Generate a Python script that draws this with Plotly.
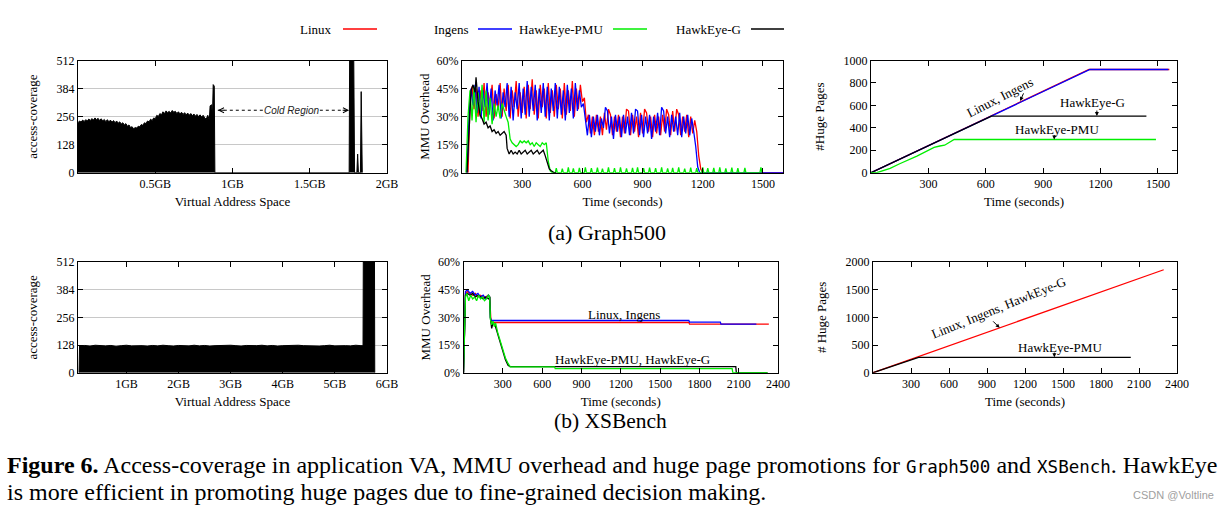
import plotly.graph_objects as go

# ---------------- DATA ----------------
# (a) Graph500 - access coverage over virtual address space (GB)
g_cov_x = [0.00, 0.01, 0.02, 0.03, 0.04, 0.05, 0.06, 0.07, 0.08, 0.09,
           0.10, 0.11, 0.12, 0.13, 0.14, 0.15, 0.16, 0.17, 0.18, 0.19,
           0.20, 0.21, 0.22, 0.23, 0.24, 0.25, 0.26, 0.27, 0.28, 0.29,
           0.30, 0.31, 0.32, 0.33, 0.34, 0.35, 0.36, 0.37, 0.38, 0.39,
           0.40, 0.41, 0.42, 0.43, 0.44, 0.45, 0.46, 0.47, 0.48, 0.49,
           0.50, 0.51, 0.52, 0.53, 0.54, 0.55, 0.56, 0.57, 0.58, 0.59,
           0.60, 0.61, 0.62, 0.63, 0.64, 0.65, 0.66, 0.67, 0.68, 0.69,
           0.70, 0.71, 0.72, 0.73, 0.74, 0.75, 0.76, 0.77, 0.78, 0.79,
           0.80, 0.81, 0.82, 0.83, 0.84, 0.85,
           0.855, 0.865, 0.87, 0.875, 0.882, 0.886,
           1.755, 1.758, 1.785, 1.79, 1.805, 1.81, 1.815, 1.828, 1.833, 1.84]
g_cov_y = [228, 236, 231, 240, 234, 242, 236, 245, 238, 247,
           240, 250, 242, 248, 238, 246, 236, 243, 233, 242,
           232, 240, 230, 238, 228, 236, 226, 232, 222, 228,
           218, 224, 212, 218, 206, 210, 200, 206, 204, 212,
           210, 220, 216, 228, 224, 236, 232, 244, 238, 250,
           246, 262, 256, 270, 264, 278, 270, 282, 274, 280,
           272, 284, 276, 280, 270, 278, 268, 276, 266, 274,
           264, 272, 262, 270, 260, 268, 258, 266, 256, 264,
           254, 262, 250, 244, 262, 240,
           305, 310, 250, 402, 395, 0,
           0, 512, 512, 0, 0, 85, 0, 0, 370, 0]

# (a) Graph500 - MMU overhead (%)
g_linux_t = list(range(30, 1201, 10)) + [1600]
g_linux_v = [0, 38, 46, 34, 45, 30, 44, 33, 48, 30,
             43, 36, 47, 29, 42, 34, 48, 30, 45, 33,
             47, 29, 44, 35, 49, 30, 43, 32, 46, 29,
             47, 34, 50, 31, 44, 29, 47, 35, 45, 29,
             48, 32, 44, 30, 47, 34, 45, 29, 48, 31,
             44, 33, 49, 30, 45, 34, 47, 38, 40, 27,
             31, 21, 30, 20, 31, 22, 30, 20, 32, 23,
             34, 31, 20, 30, 22, 31, 19, 30, 21, 34,
             33, 20, 31, 22, 30, 19, 32, 21, 34, 32,
             22, 30, 19, 31, 21, 30, 20, 31, 22, 34,
             31, 20, 33, 22, 34, 31, 20, 30, 22, 31,
             19, 30, 21, 28, 22, 9, 2, 0, 0]
g_ingens_t = list(range(25, 1196, 10)) + [1600]
g_ingens_v = [0, 30, 45, 36, 47, 32, 46, 29, 44, 35,
              48, 31, 45, 28, 44, 36, 47, 29, 43, 35,
              48, 30, 46, 28, 43, 34, 48, 29, 45, 31,
              49, 30, 46, 33, 47, 28, 45, 32, 48, 30,
              46, 28, 45, 33, 48, 29, 46, 31, 44, 28,
              47, 32, 45, 29, 48, 33, 44, 35, 37, 29,
              20, 31, 19, 30, 22, 31, 20, 29, 24, 35,
              33, 21, 30, 18, 31, 22, 30, 19, 31, 21,
              30, 20, 32, 21, 34, 33, 20, 31, 19, 30,
              21, 31, 18, 30, 22, 32, 20, 35, 33, 21,
              30, 19, 31, 22, 30, 20, 32, 19, 30, 21,
              31, 20, 29, 22, 14, 3, 0, 0, 0]
g_pmu_t = list(range(20, 451, 10))
g_pmu_v = [0, 30, 44, 28, 46, 27, 43, 30, 47, 27,
           44, 28, 40, 26, 37, 30, 36, 29, 37, 33,
           30, 27, 18, 16, 15, 14, 15, 17, 16, 17,
           16, 17, 15, 16, 14, 16, 15, 14, 16, 15,
           16, 6, 1, 0]
g_pmu_spike_t = [470, 500, 530, 555, 585, 615, 645, 675, 700, 730, 760, 790,
                 820, 850, 875, 905, 935, 965, 995, 1025, 1050, 1080, 1110, 1140,
                 1170, 1200, 1225, 1255, 1285, 1315, 1345, 1375, 1410, 1490]
g_pmu_spike_v = [2.5, 2.2, 2.8, 2.3, 2.6, 2.9, 2.4, 2.7, 2.2, 2.8, 2.5, 2.9,
                 2.3, 2.6, 2.8, 2.4, 2.7, 2.5, 2.9, 2.3, 2.6, 2.8, 2.2, 2.7,
                 2.5, 2.9, 2.4, 2.6, 2.8, 2.3, 2.7, 2.5, 2.6, 2.9]
g_hg_t = [25, 35, 45, 55, 65, 70, 80, 90, 100, 110, 120, 130, 140, 150, 160,
          170, 180, 190, 200, 210, 220, 225, 235, 245, 255, 265, 275, 285, 295,
          305, 315, 325, 335, 345, 355, 365, 375, 385, 395, 405, 415, 425, 435,
          445, 460, 470]
g_hg_v = [0, 25, 44, 47, 43, 51, 38, 31, 29, 26, 27, 24, 25, 22, 23,
          21, 22, 20, 21, 22, 20, 13, 10, 12, 10, 11, 10, 12, 10,
          11, 12, 10, 11, 12, 10, 11, 12, 10, 11, 12, 9, 6, 2,
          1, 0, 0]

# (a) Graph500 - number of huge pages
g_hp_linux_t = [0, 1140, 1560]
g_hp_linux_v = [0, 920, 920]
g_hp_ingens_t = [0, 1145, 1555]
g_hp_ingens_v = [0, 920, 920]
g_hp_g_t = [0, 630, 1440]
g_hp_g_v = [0, 505, 505]
g_hp_pmu_t = [0, 30, 100, 150, 240, 330, 360, 385, 435, 1490]
g_hp_pmu_v = [0, 0, 38, 80, 148, 225, 238, 245, 296, 296]

# (b) XSBench - access coverage
x_cov_x = [0.09, 0.1, 0.2, 0.3, 0.4, 0.5, 0.6, 0.7, 0.8, 0.9, 1.0,
           1.1, 1.2, 1.3, 1.4, 1.5, 1.6, 1.7, 1.8, 1.9, 2.0,
           2.1, 2.2, 2.3, 2.4, 2.5, 2.6, 2.7, 2.8, 2.9, 3.0,
           3.1, 3.2, 3.3, 3.4, 3.5, 3.6, 3.7, 3.8, 3.9, 4.0,
           4.1, 4.2, 4.3, 4.4, 4.5, 4.6, 4.7, 4.8, 4.9, 5.0,
           5.1, 5.2, 5.3, 5.4, 5.5, 5.54, 5.545, 5.76, 5.765]
x_cov_y = [0, 124, 126, 123, 127, 125, 124, 126, 122, 125, 127,
           124, 126, 125, 123, 126, 124, 127, 125, 123, 126,
           125, 124, 127, 124, 126, 123, 125, 126, 124, 127,
           125, 123, 126, 124, 125, 127, 124, 126, 123, 125,
           126, 124, 127, 125, 124, 126, 123, 125, 127, 124,
           126, 125, 124, 127, 125, 125, 512, 512, 0]

# (b) XSBench - MMU overhead (%)
x_linux_t = [0, 8, 15, 30, 50, 70, 90, 110, 130, 150, 170, 190, 200, 205, 210, 1720, 1725, 2330]
x_linux_v = [0, 30, 43, 44, 43, 42, 43, 41, 42, 41, 41, 42, 41, 30, 27.2, 27.2, 26.3, 26.3]
x_ingens_t = [0, 8, 15, 30, 50, 70, 90, 110, 130, 150, 170, 190, 200, 205, 210, 1720, 1725, 1960, 1965, 2235]
x_ingens_v = [0, 32, 44, 45, 43, 44, 42, 43, 41, 42, 40, 42, 41, 30, 28.3, 28.3, 27.4, 27.4, 26.3, 26.3]
x_pmu_t = [0, 8, 15, 25, 40, 55, 70, 85, 100, 115, 130, 145, 160, 175, 190, 200, 205, 215, 225, 235,
           245, 260, 280, 300, 320, 340, 357, 695, 700, 2050, 2055, 2320]
x_pmu_v = [0, 35, 41, 43, 39, 42, 40, 41, 39, 42, 40, 41, 39, 40, 42, 41, 29, 26, 28, 25,
           27, 22, 17, 12, 8, 5, 3.2, 3.2, 2.2, 2.2, 0, 0]
x_hg_t = [0, 8, 15, 30, 50, 70, 90, 110, 130, 150, 170, 190, 200, 205, 215, 225, 240, 260, 280, 300,
          320, 340, 355, 2078, 2082, 2320]
x_hg_v = [0, 30, 42, 43, 42, 43, 41, 42, 41, 40, 41, 40, 41, 30, 24, 27, 26, 21, 16, 11,
          7, 4, 3.3, 3.3, 0, 0]

# (b) XSBench - number of huge pages
x_hp_linux_t = [0, 2295]
x_hp_linux_v = [0, 1860]
x_hp_pmu_t = [0, 360, 2035]
x_hp_pmu_v = [0, 278, 278]

# labels
series_names = ["Linux", "Ingens", "HawkEye-PMU", "HawkEye-G"]
series_colors = ["#ff0000", "#0000ff", "#00ee00", "#000000"]
cov_ticks = [0, 128, 256, 384, 512]
g_va_tickvals = [0.5, 1.0, 1.5, 2.0]
g_va_ticktext = ["0.5GB", "1GB", "1.5GB", "2GB"]
x_va_tickvals = [1, 2, 3, 4, 5, 6]
x_va_ticktext = ["1GB", "2GB", "3GB", "4GB", "5GB", "6GB"]
mmu_ticks = [0, 15, 30, 45, 60]
g_time_ticks = [300, 600, 900, 1200, 1500]
x_time_ticks = [300, 600, 900, 1200, 1500, 1800, 2100, 2400]
g_hp_ticks = [0, 200, 400, 600, 800, 1000]
x_hp_ticks = [0, 500, 1000, 1500, 2000]

# ---------------- FIGURE ----------------
W, H = 1230, 510
SERIF = "Liberation Serif"
RED, BLUE, GREEN, BLACK = series_colors

def px(p):
    return p / W

def py(p):
    return 1 - p / H

fig = go.Figure()

def line(x, y, color, ax, width=1.3, **kw):
    fig.add_trace(go.Scatter(x=x, y=y, mode="lines", line=dict(color=color, width=width),
                             xaxis="x" + ax, yaxis="y" + ax, showlegend=False,
                             hoverinfo="skip", **kw))

# panel 1
line(g_cov_x, g_cov_y, BLACK, "", width=1, fill="tozeroy", fillcolor="black")
# panel 2
line(g_linux_t, g_linux_v, RED, "2")
line(g_ingens_t, g_ingens_v, BLUE, "2")
pmu_x, pmu_y = list(g_pmu_t), list(g_pmu_v)
for t, v in zip(g_pmu_spike_t, g_pmu_spike_v):
    pmu_x += [t - 5, t, t + 5]
    pmu_y += [0, v, 0]
line(pmu_x, pmu_y, GREEN, "2")
line(g_hg_t, g_hg_v, BLACK, "2")
# panel 3
line(g_hp_linux_t, g_hp_linux_v, RED, "3")
line(g_hp_ingens_t, g_hp_ingens_v, BLUE, "3")
line(g_hp_g_t, g_hp_g_v, BLACK, "3")
line(g_hp_pmu_t, g_hp_pmu_v, GREEN, "3")
# panel 4
line(x_cov_x, x_cov_y, BLACK, "4", width=1, fill="tozeroy", fillcolor="black")
# panel 5
line(x_linux_t, x_linux_v, RED, "5")
line(x_ingens_t, x_ingens_v, BLUE, "5")
line(x_hg_t, x_hg_v, BLACK, "5")
line(x_pmu_t, x_pmu_v, GREEN, "5")
# panel 6
line(x_hp_linux_t, x_hp_linux_v, RED, "6")
line(x_hp_pmu_t, x_hp_pmu_v, BLACK, "6")

tickfont = dict(family=SERIF, size=12, color="black")
titlefont = dict(family=SERIF, size=13, color="black")

def xa(dom, rng, tv, tt, title, anchor):
    return dict(domain=[px(dom[0]), px(dom[1])], range=rng, tickvals=tv, ticktext=tt,
                showline=True, linecolor="black", linewidth=1, mirror="ticks",
                ticks="inside", ticklen=5, tickcolor="black", tickfont=tickfont,
                showgrid=False, zeroline=False, anchor=anchor, automargin=False,
                title=dict(text=title, font=titlefont, standoff=6))

def ya(dom, rng, tv, tt, title, anchor, grid=False, standoff=6):
    return dict(domain=[py(dom[1]), py(dom[0])], range=rng, tickvals=tv, ticktext=tt,
                showline=True, linecolor="black", linewidth=1, mirror="ticks",
                ticks="inside", ticklen=5, tickcolor="black", tickfont=tickfont,
                showgrid=grid, gridcolor="#c8c8c8", gridwidth=1, zeroline=False, anchor=anchor,
                automargin=False,
                title=dict(text=title, font=titlefont, standoff=standoff))

TOP = (60.5, 172.7)
BOT = (262, 372.7)
cov_text = [str(v) for v in cov_ticks]
mmu_text = [f"{v}%" for v in mmu_ticks]

fig.update_layout(
    xaxis=xa((78, 387), [0, 2.0], g_va_tickvals, g_va_ticktext, "Virtual Address Space", "y"),
    yaxis=ya(TOP, [0, 512], cov_ticks, cov_text, "access-coverage", "x", grid=True, standoff=16),
    xaxis2=xa((462, 783), [0, 1600], g_time_ticks, [str(v) for v in g_time_ticks], "Time (seconds)", "y2"),
    yaxis2=ya(TOP, [0, 60], mmu_ticks, mmu_text, "MMU Overhead", "x2", standoff=4),
    xaxis3=xa((871, 1177), [0, 1600], g_time_ticks, [str(v) for v in g_time_ticks], "Time (seconds)", "y3"),
    yaxis3=ya(TOP, [0, 1000], g_hp_ticks, [str(v) for v in g_hp_ticks], "#Huge Pages", "x3", standoff=16),
    xaxis4=xa((78, 387), [0.07, 6.0], x_va_tickvals, x_va_ticktext, "Virtual Address Space", "y4"),
    yaxis4=ya(BOT, [0, 512], cov_ticks, cov_text, "access-coverage", "x4", grid=True, standoff=16),
    xaxis5=xa((463.5, 778), [0, 2400], x_time_ticks, [str(v) for v in x_time_ticks], "Time (seconds)", "y5"),
    yaxis5=ya(BOT, [0, 60], mmu_ticks, mmu_text, "MMU Overhead", "x5", standoff=4),
    xaxis6=xa((873, 1177), [0, 2400], x_time_ticks, [str(v) for v in x_time_ticks], "Time (seconds)", "y6"),
    yaxis6=ya(BOT, [0, 2000], x_hp_ticks, [str(v) for v in x_hp_ticks], "# Huge Pages", "x6", standoff=16),
    width=W, height=H, margin=dict(l=0, r=0, t=0, b=0, pad=0, autoexpand=False),
    plot_bgcolor="white", paper_bgcolor="white", showlegend=False,
)

ann = []
shapes = []

# custom legend (text then line sample)
leg_items = [(series_names[0], RED, 334, 343, 377),
             (series_names[1], BLUE, 471, 478, 512),
             (series_names[2], GREEN, 605, 613, 647),
             (series_names[3], BLACK, 743, 751, 784)]
for name, col, tx, l0, l1 in leg_items:
    ann.append(dict(xref="paper", yref="paper", x=px(tx), y=py(29), text=name, showarrow=False,
                    xanchor="right", yanchor="middle", font=dict(family=SERIF, size=13, color="black")))
    shapes.append(dict(type="line", xref="paper", yref="paper", x0=px(l0), x1=px(l1),
                       y0=py(29), y1=py(29), line=dict(color=col, width=1.5)))

# cold region annotation (panel 1)
shapes.append(dict(type="line", xref="x", yref="y", x0=0.905, x1=1.755, y0=285, y1=285,
                   line=dict(color="black", width=1, dash="dot")))
ann.append(dict(xref="x", yref="y", x=0.905, y=285, ax=8, ay=0, text="", showarrow=True,
                arrowhead=5, arrowsize=1, arrowwidth=1, arrowcolor="black"))
ann.append(dict(xref="x", yref="y", x=1.755, y=285, ax=-8, ay=0, text="", showarrow=True,
                arrowhead=5, arrowsize=1, arrowwidth=1, arrowcolor="black"))
ann.append(dict(xref="x", yref="y", x=1.385, y=285, text="<i>Cold Region</i>", showarrow=False,
                bgcolor="white", borderpad=0,
                font=dict(family="Liberation Sans", size=10, color="#222")))

# panel 3 labels
lab = dict(family=SERIF, size=13, color="black")
ann.append(dict(xref="x3", yref="y3", x=672, y=668, text="Linux, Ingens", showarrow=False,
                textangle=-27, font=lab))
ann.append(dict(xref="x3", yref="y3", x=780, y=640, ax=4, ay=-9, text="", showarrow=True,
                arrowhead=2, arrowsize=0.8, arrowwidth=1, arrowcolor="black"))
ann.append(dict(xref="x3", yref="y3", x=1160, y=627, text="HawkEye-G", showarrow=False, font=lab))
ann.append(dict(xref="x3", yref="y3", x=1181, y=505, ax=0, ay=-7, text="", showarrow=True,
                arrowhead=2, arrowsize=0.8, arrowwidth=1, arrowcolor="black"))
ann.append(dict(xref="x3", yref="y3", x=972, y=385, text="HawkEye-PMU", showarrow=False, font=lab))
ann.append(dict(xref="x3", yref="y3", x=958, y=296, ax=0, ay=-6, text="", showarrow=True,
                arrowhead=2, arrowsize=0.8, arrowwidth=1, arrowcolor="black"))

# panel 5 labels
ann.append(dict(xref="x5", yref="y5", x=1221, y=31.8, text="Linux, Ingens", showarrow=False, font=lab))
ann.append(dict(xref="x5", yref="y5", x=1290, y=6.9, text="HawkEye-PMU, HawkEye-G", showarrow=False, font=lab))

# panel 6 labels
ann.append(dict(xref="x6", yref="y6", x=997, y=1171, text="Linux, Ingens, HawkEye-G", showarrow=False,
                textangle=-22, font=lab))
ann.append(dict(xref="x6", yref="y6", x=1000, y=810, ax=-8, ay=-8, text="", showarrow=True,
                arrowhead=2, arrowsize=0.8, arrowwidth=1, arrowcolor="black"))
ann.append(dict(xref="x6", yref="y6", x=1479, y=450, text="HawkEye-PMU", showarrow=False, font=lab))
ann.append(dict(xref="x6", yref="y6", x=1432, y=280, ax=0, ay=-6, text="", showarrow=True,
                arrowhead=2, arrowsize=0.8, arrowwidth=1, arrowcolor="black"))

# subfigure captions
ann.append(dict(xref="paper", yref="paper", x=px(607), y=py(233), text="(a) Graph500", showarrow=False,
                font=dict(family=SERIF, size=22, color="black")))
ann.append(dict(xref="paper", yref="paper", x=px(610), y=py(435), text="(b) XSBench", showarrow=False,
                font=dict(family=SERIF, size=21.5, color="black")))

# figure caption
mono = "font-family:'DejaVu Sans Mono';font-size:17.5px"
cap1 = ("<b>Figure 6.</b> Access-coverage in application VA, MMU overhead and huge page promotions for "
        f"<span style=\"{mono}\">Graph500</span> and <span style=\"{mono}\">XSBench</span>. HawkEye")
cap2 = "is more efficient in promoting huge pages due to fine-grained decision making."
ann.append(dict(xref="paper", yref="paper", x=px(5), y=py(465), text=cap1, showarrow=False,
                xanchor="left", yanchor="middle", font=dict(family=SERIF, size=24, color="black")))
ann.append(dict(xref="paper", yref="paper", x=px(5), y=py(492), text=cap2, showarrow=False,
                xanchor="left", yanchor="middle", font=dict(family=SERIF, size=24, color="black")))
ann.append(dict(xref="paper", yref="paper", x=px(1216), y=py(495), text="CSDN @Voltline", showarrow=False,
                xanchor="right", yanchor="middle", font=dict(family="Liberation Sans", size=11, color="#a0a0a0")))

fig.update_layout(annotations=ann, shapes=shapes)
fig.write_html("out.html", config=dict(displayModeBar=False, staticPlot=True),
               post_script="document.body.style.margin='0px';document.body.style.overflow='hidden';")
